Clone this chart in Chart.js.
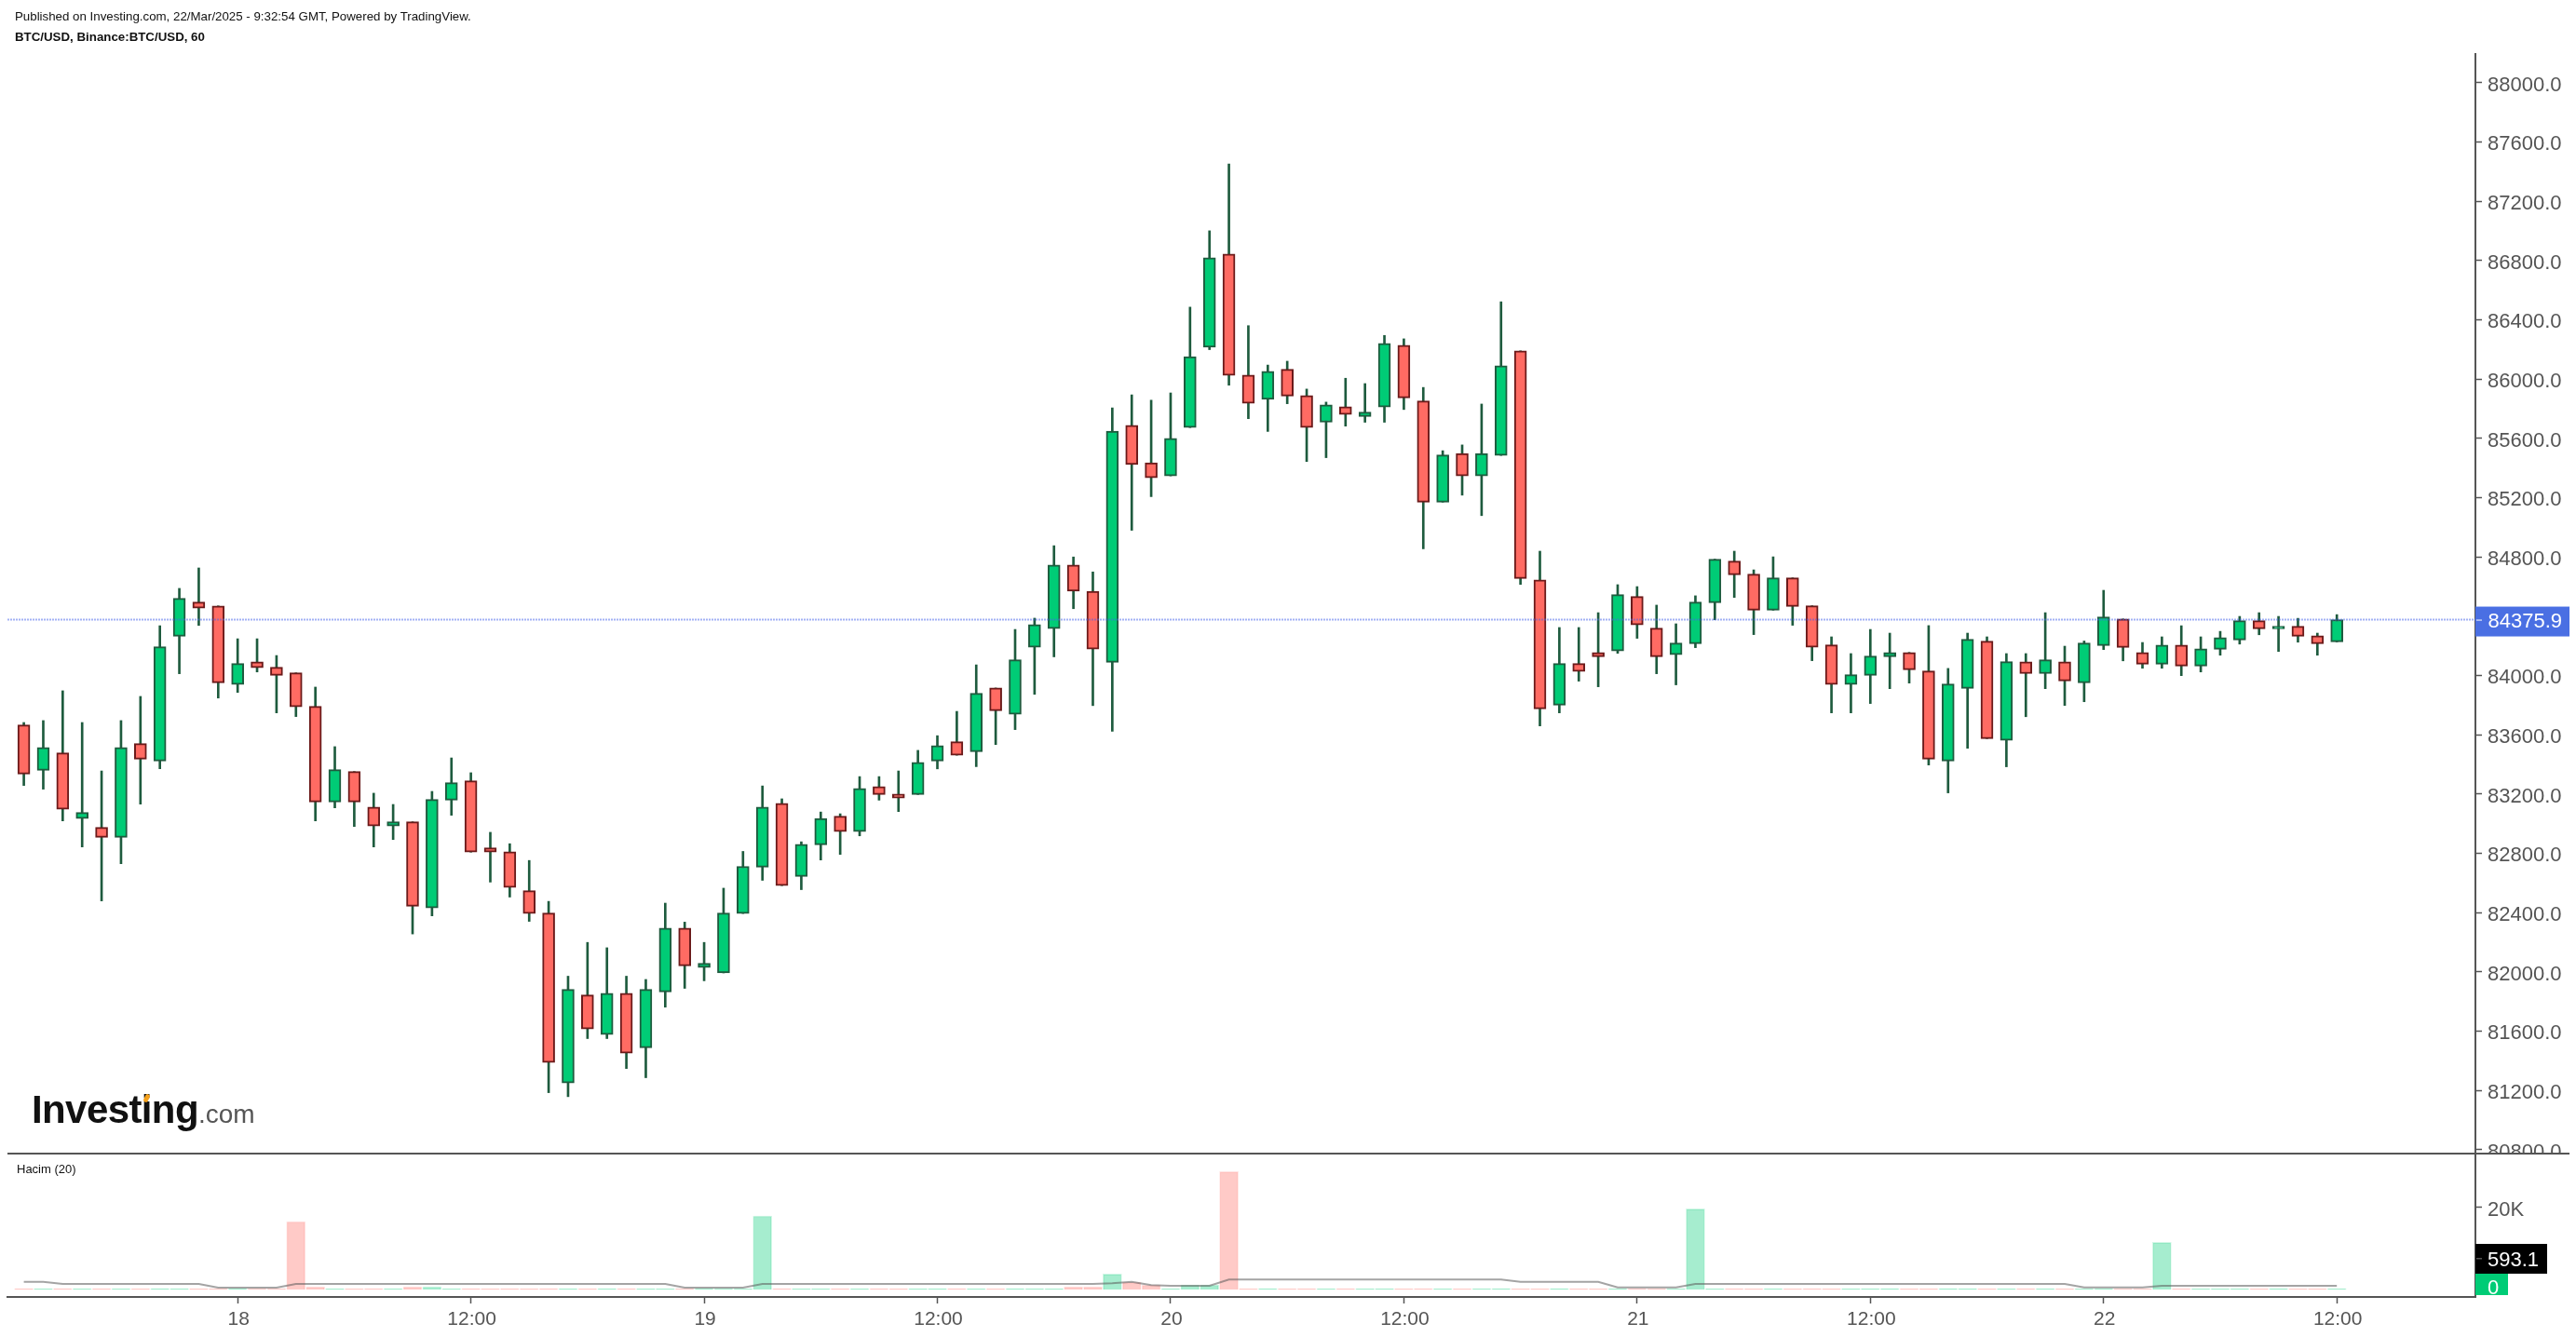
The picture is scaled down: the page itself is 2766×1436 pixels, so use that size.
<!DOCTYPE html>
<html>
<head>
<meta charset="utf-8">
<title>BTC/USD</title>
<script src="https://cdn.jsdelivr.net/npm/chart.js@4/dist/chart.umd.js"></script>
<style>
  html, body { margin: 0; padding: 0; background: #fff; }
  #page { position: relative; width: 2766px; height: 1436px; overflow: hidden; background: #fff; font-family: "Liberation Sans", Arial, sans-serif; }
  canvas { position: absolute; left: 0; }
  #priceChart { top: 0; }
  #volumeChart { top: 1239px; background: #fff; }
  .note { position: absolute; left: 16px; font-size: 13.3px; color: #111; white-space: nowrap; }
  #paneLine { position: absolute; left: 8px; top: 1238px; width: 2751px; height: 2px; background: #555; }
  #hacim { position: absolute; left: 18px; top: 1248px; font-size: 13px; color: #111; }
  #logo { position: absolute; left: 34px; top: 1168px; white-space: nowrap; color: #111; font-size: 42px; font-weight: bold; letter-spacing: -0.6px; }
  #logo span { font-size: 28px; font-weight: normal; color: #555; letter-spacing: 0; }
  #logo i { position: absolute; left: 121px; top: 7px; width: 5px; height: 9px; background: #f4a11c; border-radius: 3px; transform: rotate(25deg); }
</style>
</head>
<body>
<div id="page">
  <canvas id="priceChart" width="2766" height="1260"></canvas>
  <canvas id="volumeChart" width="2766" height="197"></canvas>
  <div id="paneLine"></div>
  <div class="note" style="top:10px">Published on Investing.com, 22/Mar/2025 - 9:32:54 GMT, Powered by TradingView.</div>
  <div class="note" style="top:32px;font-weight:bold">BTC/USD, Binance:BTC/USD, 60</div>
  <div id="hacim">Hacim (20)</div>
  <div id="logo">Investing<span>.com</span><i></i></div>
</div>
<script>
// hourly candles, 17 Mar 13:00 to 22 Mar 12:00
var opens = [
  83665, 83359, 83477, 83033, 82974, 82907, 83540, 83422, 84264, 84495,
  84469, 83938, 84092, 84055, 84017, 83791, 83146, 83351, 83112, 82983,
  83012, 82430, 83158, 83288, 82836, 82809, 82547, 82396, 81249, 81843,
  81576, 81855, 81487, 81864, 82295, 82028, 81992, 82393, 82706, 83136,
  82643, 82857, 83050, 82946, 83249, 83199, 83196, 83422, 83552, 83485,
  83915, 83737, 84189, 84315, 84745, 84568, 84088, 85688, 85435, 85346,
  85672, 86214, 86844, 86026, 85862, 86065, 85888, 85708, 85813, 85747,
  85810, 86227, 85852, 85169, 85497, 85346, 85484, 86190, 84645, 83799,
  84080, 84155, 84164, 84532, 84319, 84139, 84214, 84490, 84771, 84683,
  84440, 84658, 84470, 84206, 83938, 84000, 84126, 84155, 84030, 83422,
  83912, 84231, 83561, 84092, 84012, 84092, 83950, 84201, 84381, 84155,
  84075, 84205, 84063, 84176, 84239, 84369, 84314, 84331, 84268, 84226
];
var highs = [
  83682, 83695, 83896, 83682, 83355, 83695, 83858, 84335, 84587, 84725,
  84469, 84247, 84247, 84134, 84017, 83921, 83519, 83351, 83205, 83129,
  83012, 83217, 83443, 83343, 82941, 82864, 82751, 82475, 81970, 82198,
  82162, 81970, 81948, 82463, 82335, 82198, 82564, 82812, 83254, 83167,
  82877, 83078, 83066, 83317, 83317, 83355, 83494, 83593, 83757, 84071,
  83915, 84310, 84386, 84875, 84799, 84698, 85805, 85893, 85857, 85906,
  86485, 87000, 87451, 86360, 86094, 86120, 85932, 85844, 86005, 85969,
  86294, 86271, 85943, 85516, 85555, 85831, 86521, 86190, 84838, 84323,
  84323, 84423, 84612, 84599, 84474, 84348, 84537, 84784, 84838, 84712,
  84800, 84658, 84470, 84260, 84147, 84310, 84285, 84155, 84336, 84047,
  84285, 84260, 84147, 84147, 84423, 84197, 84232, 84574, 84381, 84222,
  84260, 84335, 84260, 84297, 84398, 84423, 84398, 84385, 84285, 84410
];
var lows = [
  83257, 83232, 83018, 82842, 82478, 82729, 83131, 83370, 84011, 84337,
  83847, 83885, 84023, 83747, 83722, 83018, 83106, 82980, 82842, 82892,
  82255, 82377, 83056, 82807, 82605, 82504, 82340, 81184, 81157, 81549,
  81549, 81347, 81285, 81761, 81888, 81939, 81992, 82393, 82617, 82581,
  82554, 82754, 82792, 82917, 83158, 83081, 83196, 83369, 83461, 83384,
  83533, 83634, 83872, 84125, 84450, 83796, 83622, 84979, 85206, 85346,
  85672, 86198, 85958, 85732, 85646, 85833, 85443, 85469, 85682, 85708,
  85708, 85794, 84854, 85169, 85216, 85078, 85484, 84614, 83659, 83747,
  83961, 83923, 84149, 84250, 84011, 83936, 84187, 84375, 84526, 84275,
  84440, 84338, 84099, 83747, 83747, 83810, 83910, 83948, 83395, 83207,
  83508, 83573, 83383, 83721, 83910, 83797, 83822, 84174, 84098, 84048,
  84048, 83998, 84023, 84136, 84211, 84274, 84161, 84224, 84136, 84226
];
var closes = [
  83334, 83514, 83096, 83075, 82907, 83514, 83435, 84193, 84520, 84453,
  83950, 84080, 84051, 84000, 83787, 83146, 83364, 83146, 82983, 83012,
  82442, 83163, 83276, 82807, 82807, 82569, 82393, 81388, 81881, 81614,
  81855, 81451, 81881, 82295, 82040, 82057, 82396, 82711, 83112, 82581,
  82860, 83035, 82946, 83237, 83196, 83172, 83413, 83526, 83461, 83879,
  83761, 84105, 84343, 84745, 84568, 84177, 85648, 85422, 85333, 85599,
  86151, 86818, 86024, 85836, 86052, 85885, 85672, 85826, 85760, 85776,
  86240, 85872, 85169, 85487, 85346, 85497, 86089, 84653, 83774, 84080,
  84026, 84126, 84545, 84340, 84126, 84218, 84495, 84784, 84679, 84440,
  84658, 84465, 84189, 83938, 84005, 84130, 84155, 84038, 83435, 83942,
  84243, 83573, 84093, 84012, 84105, 83962, 84218, 84394, 84188, 84075,
  84205, 84063, 84180, 84255, 84369, 84314, 84331, 84264, 84214, 84376
];
var volumes = [
  300, 280, 290, 270, 300, 280, 270, 290, 300, 280,
  270, 290, 280, 300, 16550, 790, 280, 270, 290, 300,
  790, 790, 280, 290, 270, 300, 280, 290, 270, 280,
  300, 290, 280, 270, 300, 290, 280, 270, 17900, 290,
  280, 270, 300, 280, 290, 270, 280, 300, 290, 270,
  280, 290, 300, 280, 790, 790, 3870, 1900, 1240, 290,
  1240, 1240, 28650, 280, 290, 270, 300, 280, 290, 270,
  300, 280, 290, 270, 280, 300, 290, 280, 270, 290,
  300, 280, 270, 290, 280, 300, 19640, 280, 290, 270,
  300, 280, 290, 270, 280, 300, 290, 270, 280, 290,
  300, 280, 270, 290, 300, 280, 270, 290, 280, 300,
  11530, 290, 280, 270, 300, 280, 290, 270, 280, 300
];
var volumeAverage = [
  1982, 1982, 1464, 1464, 1464, 1464, 1464, 1464, 1464, 1464,
  563, 563, 563, 563, 1464, 1464, 1464, 1464, 1464, 1464,
  1464, 1464, 1464, 1464, 1464, 1464, 1464, 1464, 1464, 1464,
  1464, 1464, 1464, 1464, 563, 563, 563, 563, 1464, 1464,
  1464, 1464, 1464, 1464, 1464, 1464, 1464, 1464, 1464, 1464,
  1464, 1464, 1464, 1464, 1464, 1464, 1620, 1982, 1171, 1014,
  1014, 1014, 2522, 2522, 2522, 2522, 2522, 2522, 2522, 2522,
  2522, 2522, 2522, 2522, 2522, 2522, 2522, 1982, 1982, 1982,
  1982, 1982, 631, 631, 631, 631, 1464, 1464, 1464, 1464,
  1464, 1464, 1464, 1464, 1464, 1464, 1464, 1464, 1464, 1464,
  1464, 1464, 1464, 1464, 1464, 1464, 631, 631, 631, 631,
  1014, 1014, 1014, 1014, 1014, 1014, 1014, 1014, 1014, 1014
];

var timeTicks = [11, 23, 35, 47, 59, 71, 83, 95, 107, 119];
var timeLabels = ["18", "12:00", "19", "12:00", "20", "12:00", "21", "12:00", "22", "12:00"];
var priceTicks = [
  88000, 87600, 87200, 86800, 86400, 86000, 85600, 85200, 84800, 84400,
  84000, 83600, 83200, 82800, 82400, 82000, 81600, 81200, 80800
];
var volumeTicks = [0, 20000];
var lastPrice = 84375.9;
var lastVolumeLabel = "593.1";

var GREEN = "#00cc76";
var RED = "#ff6b63";
var GREEN_EDGE = "#1e5b3e";
var RED_EDGE = "#6b1a1a";
var GREY = "#555555";
var X_MIN = -0.843;
var X_MAX = 126.13;

Chart.defaults.font.family = '"Liberation Sans", Arial, sans-serif';
Chart.defaults.color = GREY;

function isUp(i) {
  return closes[i] >= opens[i];
}

function xScale(show) {
  return {
    type: "linear",
    display: show,
    min: X_MIN,
    max: X_MAX,
    offset: false,
    grid: { display: show, drawOnChartArea: false, color: GREY, tickLength: 7, tickWidth: 1.5, offset: false },
    border: { color: GREY, width: 2 },
    afterBuildTicks: function (scale) {
      scale.ticks = timeTicks.map(function (v) { return { value: v }; });
    },
    afterFit: function (scale) {
      scale.height = show ? 43 : 0;
      scale.paddingLeft = 0;
      scale.paddingRight = 0;
    },
    ticks: {
      autoSkip: false,
      maxRotation: 0,
      padding: 5,
      labelOffset: 1,
      color: GREY,
      font: { size: 21 },
      callback: function (v) { return timeLabels[timeTicks.indexOf(v)]; },
    },
  };
}

function fixYAxis(scale) {
  scale.width = 108;
  scale.paddingTop = 0;
  scale.paddingBottom = 0;
}

// price tag on the axis
var priceTag = {
  id: "priceTag",
  afterDraw: function (chart) {
    var ctx = chart.ctx;
    var y = chart.scales.y.getPixelForValue(lastPrice);
    ctx.save();
    ctx.fillStyle = "#4a6fe3";
    ctx.fillRect(2658, y - 14, 101, 32);
    ctx.fillStyle = "#ffffff";
    ctx.fillRect(2659, y, 6, 1);
    ctx.font = '22px "Liberation Sans", Arial, sans-serif';
    ctx.textBaseline = "middle";
    ctx.fillText(lastPrice.toFixed(1), 2671.5, y + 2);
    ctx.restore();
  },
};

// black average tag and green zero tag
var volumeTags = {
  id: "volumeTags",
  afterDraw: function (chart) {
    var ctx = chart.ctx;
    var y = chart.scales.y.getPixelForValue(0);
    ctx.save();
    ctx.fillStyle = "#000000";
    ctx.fillRect(2658, y - 49.5, 77, 32);
    ctx.fillStyle = GREEN;
    ctx.fillRect(2658, y - 17.5, 35, 23);
    ctx.fillStyle = GREY;
    ctx.fillRect(2659, y - 34.5, 6, 1.5);
    ctx.fillStyle = "#ffffff";
    ctx.font = '22px "Liberation Sans", Arial, sans-serif';
    ctx.textBaseline = "middle";
    ctx.fillText(lastVolumeLabel, 2671, y - 32);
    ctx.fillText("0", 2671, y - 2);
    ctx.restore();
  },
};

new Chart(document.getElementById("priceChart").getContext("2d"), {
  type: "bar",
  data: {
    datasets: [
      {
        type: "line",
        order: 0,
        data: [{ x: X_MIN, y: lastPrice }, { x: X_MAX, y: lastPrice }],
        borderColor: "rgba(70,100,235,0.5)",
        borderWidth: 2,
        borderDash: [2, 1],
        pointRadius: 0,
      },
      {
        order: 1,
        grouped: false,
        barThickness: 13,
        data: opens.map(function (o, i) { return { x: i, y: [o, closes[i]] }; }),
        backgroundColor: opens.map(function (o, i) { return isUp(i) ? GREEN : RED; }),
        borderColor: opens.map(function (o, i) { return isUp(i) ? GREEN_EDGE : RED_EDGE; }),
        borderWidth: 2,
        borderSkipped: false,
      },
      {
        order: 2,
        grouped: false,
        barThickness: 2,
        data: lows.map(function (l, i) { return { x: i, y: [l, highs[i]] }; }),
        backgroundColor: GREEN_EDGE,
      },
    ],
  },
  options: {
    responsive: false,
    devicePixelRatio: 1,
    animation: false,
    events: [],
    layout: { padding: { left: 8, top: 58, right: 0, bottom: 21 } },
    plugins: { legend: { display: false }, tooltip: { enabled: false } },
    scales: {
      x: xScale(false),
      y: {
        position: "right",
        min: 80773,
        max: 88193,
        grid: { drawOnChartArea: false, color: GREY, tickLength: 7, tickWidth: 1.5 },
        border: { color: GREY, width: 2 },
        afterBuildTicks: function (scale) {
          scale.ticks = priceTicks.map(function (v) { return { value: v }; });
        },
        afterFit: fixYAxis,
        ticks: {
          autoSkip: false,
          padding: 6,
          labelOffset: 3,
          color: GREY,
          font: { size: 22 },
          callback: function (v) { return v.toFixed(1); },
        },
      },
    },
  },
  plugins: [priceTag],
});

new Chart(document.getElementById("volumeChart").getContext("2d"), {
  type: "bar",
  data: {
    datasets: [
      {
        type: "line",
        order: 0,
        data: volumeAverage.map(function (v, i) { return { x: i, y: v }; }),
        borderColor: "rgba(90,90,90,0.55)",
        borderWidth: 2,
        pointRadius: 0,
      },
      {
        order: 1,
        barThickness: 20,
        data: volumes.map(function (v, i) { return { x: i, y: v }; }),
        backgroundColor: volumes.map(function (v, i) {
          return isUp(i) ? "rgba(0,204,118,0.35)" : "rgba(255,107,99,0.36)";
        }),
        borderColor: volumes.map(function (v, i) {
          return isUp(i) ? "rgba(0,204,118,0.18)" : "rgba(255,107,99,0.18)";
        }),
        borderWidth: 1,
        borderSkipped: "bottom",
      },
    ],
  },
  options: {
    responsive: false,
    devicePixelRatio: 1,
    animation: false,
    events: [],
    layout: { padding: { left: 8, top: 0, right: 0, bottom: 0 } },
    plugins: { legend: { display: false }, tooltip: { enabled: false } },
    scales: {
      x: xScale(true),
      y: {
        position: "right",
        min: -1689,
        max: 32995,
        grid: { drawOnChartArea: false, color: GREY, tickLength: 7, tickWidth: 1.5 },
        border: { color: GREY, width: 2 },
        afterBuildTicks: function (scale) {
          scale.ticks = volumeTicks.map(function (v) { return { value: v }; });
        },
        afterFit: fixYAxis,
        ticks: {
          autoSkip: false,
          padding: 6,
          labelOffset: 3,
          color: GREY,
          font: { size: 22 },
          callback: function (v) { return v === 0 ? "" : v / 1000 + "K"; },
        },
      },
    },
  },
  plugins: [volumeTags],
});
</script>
</body>
</html>
